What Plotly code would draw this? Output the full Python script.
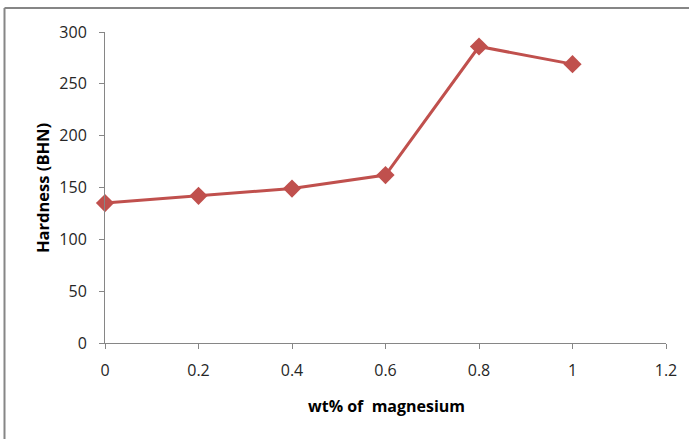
import plotly.graph_objects as go

wt_mg = [0, 0.2, 0.4, 0.6, 0.8, 1.0]
hardness = [135, 142, 149, 162, 286, 269]
x_ticks = [0, 0.2, 0.4, 0.6, 0.8, 1, 1.2]
x_tick_text = ["0", "0.2", "0.4", "0.6", "0.8", "1", "1.2"]
y_ticks = [0, 50, 100, 150, 200, 250, 300]

W, H = 689, 439
L, R, T, B = 105, 23, 32, 96
pw, ph = W - L - R, H - T - B

def px(x):
    return (x - L) / pw

def py(y):
    return (H - B - y) / ph

FONT = "Open Sans"
GRAY = "#868686"

fig = go.Figure()
fig.add_trace(go.Scatter(
    x=wt_mg, y=hardness, mode="lines+markers",
    line=dict(color="#C0504D", width=3),
    marker=dict(symbol="diamond", size=14, color="#C0504D"),
    showlegend=False, cliponaxis=False,
))

fig.update_layout(
    width=W, height=H,
    margin=dict(l=L, r=R, t=T, b=B),
    paper_bgcolor="white", plot_bgcolor="white",
    font=dict(family=FONT, size=16, color="#262626"),
    xaxis=dict(
        range=[0, 1.2], tickvals=x_ticks, ticktext=x_tick_text,
        showgrid=False, zeroline=False, showline=True, linecolor=GRAY, linewidth=1,
        ticks="outside", ticklen=5, tickcolor=GRAY, ticklabelstandoff=8,
        tickfont=dict(family=FONT, size=16, color="#262626"),
    ),
    yaxis=dict(
        range=[0, 300], tickvals=y_ticks,
        showgrid=False, zeroline=False, showline=True, linecolor=GRAY, linewidth=1,
        ticks="outside", ticklen=5, tickcolor=GRAY, ticklabelstandoff=9,
        tickfont=dict(family=FONT, size=16, color="#262626"),
    ),
    shapes=[
        dict(type="line", xref="paper", yref="paper",
             x0=px(4.5), x1=px(W + 2), y0=py(8), y1=py(8),
             line=dict(color=GRAY, width=2)),
        dict(type="line", xref="paper", yref="paper",
             x0=px(4.5), x1=px(4.5), y0=py(8), y1=py(H + 2),
             line=dict(color=GRAY, width=2)),
    ],
    annotations=[
        dict(text="<b>wt% of\u00a0\u00a0magnesium</b>", xref="paper", yref="paper",
             x=px(386), y=py(406), showarrow=False, xanchor="center", yanchor="middle",
             font=dict(family=FONT, size=16, color="black")),
        dict(text="<b>Hardness (BHN)</b>", xref="paper", yref="paper",
             x=px(42), y=py(188), showarrow=False, xanchor="center", yanchor="middle",
             textangle=-90, font=dict(family=FONT, size=16.5, color="black")),
    ],
)

fig.write_html("out.html")
